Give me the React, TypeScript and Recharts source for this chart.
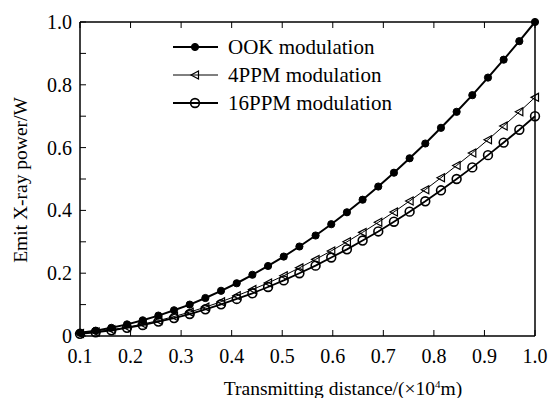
import React from 'react';
import { Legend, Line, LineChart, XAxis, YAxis } from 'recharts';

// transmitting distance (x10^4 m)
const distance = [
  0.1, 0.131, 0.162, 0.193, 0.224, 0.255, 0.286, 0.317, 0.348, 0.379,
  0.41, 0.441, 0.472, 0.503, 0.534, 0.566, 0.597, 0.628, 0.659, 0.69,
  0.721, 0.752, 0.783, 0.814, 0.845, 0.876, 0.907, 0.938, 0.969, 1.0,
];

const ookPower = [
  0.01, 0.017, 0.026, 0.037, 0.05, 0.065, 0.082, 0.1, 0.121, 0.144,
  0.168, 0.195, 0.223, 0.253, 0.285, 0.32, 0.356, 0.394, 0.434, 0.476,
  0.52, 0.566, 0.613, 0.663, 0.714, 0.767, 0.823, 0.88, 0.939, 1.0,
];

const ppm4Power = [
  0.008, 0.013, 0.02, 0.028, 0.038, 0.049, 0.062, 0.076, 0.092, 0.109,
  0.128, 0.148, 0.169, 0.192, 0.217, 0.244, 0.271, 0.3, 0.33, 0.362,
  0.395, 0.43, 0.466, 0.504, 0.543, 0.583, 0.625, 0.669, 0.714, 0.76,
];

const ppm16Power = [
  0.007, 0.012, 0.018, 0.026, 0.035, 0.046, 0.057, 0.07, 0.085, 0.101,
  0.118, 0.136, 0.156, 0.177, 0.2, 0.224, 0.25, 0.276, 0.304, 0.333,
  0.364, 0.396, 0.429, 0.464, 0.5, 0.537, 0.576, 0.616, 0.657, 0.7,
];

const xTicks = [0.1, 0.2, 0.3, 0.4, 0.5, 0.6, 0.7, 0.8, 0.9, 1.0];
const yTicks = [0, 0.1, 0.2, 0.3, 0.4, 0.5, 0.6, 0.7, 0.8, 0.9, 1.0];
const yLabels = ['0', '', '0.2', '', '0.4', '', '0.6', '', '0.8', '', '1.0'];

const seriesNames = ['OOK modulation', '4PPM modulation', '16PPM modulation'];

const data = distance.map((d, i) => ({
  d,
  ook: ookPower[i],
  ppm4: ppm4Power[i],
  ppm16: ppm16Power[i],
}));

const FONT = '"Liberation Serif", "Times New Roman", serif';
const TICK = 6;

const OokDot = ({ cx, cy }: any) => <circle cx={cx} cy={cy} r={3.6} fill="#000" stroke="#000" strokeWidth={1} />;
const TriDot = ({ cx, cy }: any) => (
  <polygon
    points={`${cx - 4},${cy} ${cx + 3.5},${cy - 4} ${cx + 3.5},${cy + 4}`}
    fill="none"
    stroke="#000"
    strokeWidth={1.2}
  />
);
const CircDot = ({ cx, cy }: any) => <circle cx={cx} cy={cy} r={4.4} fill="none" stroke="#000" strokeWidth={1.6} />;

const BottomTick = ({ x, y, payload }: any) => (
  <g>
    <line x1={x} y1={y} x2={x} y2={y - TICK} stroke="#000" />
    <text x={x} y={y + 27} textAnchor="middle" fontFamily={FONT} fontSize={20} fill="#000">
      {Number(payload.value).toFixed(1)}
    </text>
  </g>
);

const TopTick = ({ x, y }: any) => <line x1={x} y1={y} x2={x} y2={y + TICK} stroke="#000" />;

const LeftTick = ({ x, y, index }: any) => (
  <g>
    <line x1={x} y1={y} x2={x + TICK} y2={y} stroke="#000" />
    <text x={x - 8} y={y + 7} textAnchor="end" fontFamily={FONT} fontSize={20} fill="#000">
      {yLabels[index] ?? ''}
    </text>
  </g>
);

const RightTick = ({ x, y }: any) => <line x1={x} y1={y} x2={x - TICK} y2={y} stroke="#000" />;

const LegendBox = () => {
  const rows = [
    { name: seriesNames[0], width: 2, dot: <OokDot cx={22} cy={0} /> },
    { name: seriesNames[1], width: 1, dot: <TriDot cx={22} cy={0} /> },
    { name: seriesNames[2], width: 2, dot: <CircDot cx={22} cy={0} /> },
  ];
  return (
    <svg width={250} height={84}>
      {rows.map((r, i) => (
        <g key={r.name} transform={`translate(1, ${12 + i * 28})`}>
          <line x1={0} y1={0} x2={45} y2={0} stroke="#000" strokeWidth={r.width} />
          {r.dot}
          <text x={55} y={7} fontFamily={FONT} fontSize={21} fill="#000">
            {r.name}
          </text>
        </g>
      ))}
    </svg>
  );
};

export default function App() {
  return (
    <div style={{ position: 'absolute', left: 0, top: 0, background: '#fff' }}>
      <LineChart width={551} height={398} data={data} margin={{ top: 20, right: 14, bottom: 22, left: 20 }}>
        <XAxis
          xAxisId="bottom"
          dataKey="d"
          type="number"
          domain={[0.1, 1]}
          ticks={xTicks}
          interval={0}
          height={40}
          tickSize={0}
          tickMargin={0}
          tickLine={false}
          axisLine={{ stroke: '#000', strokeWidth: 1.5 }}
          tick={(p: any) => <BottomTick {...p} />}
          label={{
            content: () => (
              <text x={343} y={395} textAnchor="middle" fontFamily={FONT} fontSize={19.5} fill="#000">
                Transmitting distance/(×10
                <tspan dy={-7} fontSize={11}>4</tspan>
                <tspan dy={7}>m)</tspan>
              </text>
            ),
          }}
        />
        <XAxis
          xAxisId="top"
          orientation="top"
          dataKey="d"
          type="number"
          domain={[0.1, 1]}
          ticks={xTicks}
          interval={0}
          height={2}
          tickSize={0}
          tickMargin={0}
          tickLine={false}
          axisLine={{ stroke: '#000', strokeWidth: 1.5 }}
          tick={(p: any) => <TopTick {...p} />}
        />
        <YAxis
          yAxisId="left"
          type="number"
          domain={[0, 1]}
          ticks={yTicks}
          interval={0}
          width={60}
          tickSize={0}
          tickMargin={0}
          tickLine={false}
          axisLine={{ stroke: '#000', strokeWidth: 1.5 }}
          tick={(p: any) => <LeftTick {...p} />}
          label={{
            content: () => (
              <text
                x={0}
                y={0}
                transform="translate(27, 180) rotate(-90)"
                textAnchor="middle"
                fontFamily={FONT}
                fontSize={19.5}
                fill="#000"
              >
                Emit X-ray power/W
              </text>
            ),
          }}
        />
        <YAxis
          yAxisId="right"
          orientation="right"
          type="number"
          domain={[0, 1]}
          ticks={yTicks}
          interval={0}
          width={2}
          tickSize={0}
          tickMargin={0}
          tickLine={false}
          axisLine={{ stroke: '#000', strokeWidth: 1.5 }}
          tick={(p: any) => <RightTick {...p} />}
        />
        <Legend
          layout="vertical"
          align="center"
          verticalAlign="middle"
          content={() => <LegendBox />}
          wrapperStyle={{ left: 172, top: 35, width: 250, height: 84 }}
        />
        <Line
          xAxisId="bottom"
          yAxisId="left"
          dataKey="ppm16"
          name={seriesNames[2]}
          stroke="#000"
          strokeWidth={1.8}
          dot={(p: any) => <CircDot key={p.index} {...p} />}
          isAnimationActive={false}
        />
        <Line
          xAxisId="bottom"
          yAxisId="left"
          dataKey="ppm4"
          name={seriesNames[1]}
          stroke="#000"
          strokeWidth={1}
          dot={(p: any) => <TriDot key={p.index} {...p} />}
          isAnimationActive={false}
        />
        <Line
          xAxisId="bottom"
          yAxisId="left"
          dataKey="ook"
          name={seriesNames[0]}
          stroke="#000"
          strokeWidth={2}
          dot={(p: any) => <OokDot key={p.index} {...p} />}
          isAnimationActive={false}
        />
      </LineChart>
    </div>
  );
}
